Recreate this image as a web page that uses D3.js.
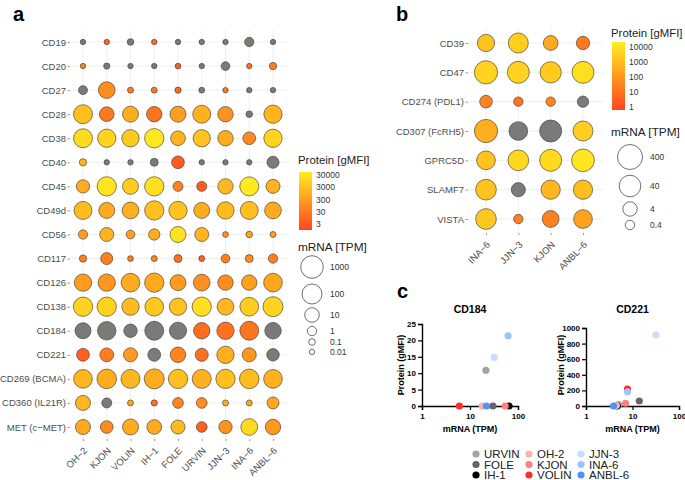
<!DOCTYPE html>
<html><head><meta charset="utf-8">
<script src="https://cdn.jsdelivr.net/npm/d3@7"></script>
<style>body{margin:0;background:#fff} svg{display:block} text{font-family:"Liberation Sans",Arial,sans-serif}</style>
</head><body><svg id="c" width="685" height="480"></svg>
<script>
// ---------- Panel a data ----------
const cellsA = ["OH−2","KJON","VOLIN","IH−1","FOLE","URVIN","JJN−3","INA−6","ANBL−6"];
const markersA = ["CD19","CD20","CD27","CD28","CD38","CD40","CD45","CD49d","CD56","CD117","CD126","CD138","CD184","CD221","CD269 (BCMA)","CD360 (IL21R)","MET (c−MET)"];
const mrnaA = [
 [0.01,0.01,0.1,0.01,0.01,0.01,0.01,0.9,0.01],
 [0.01,0.05,0.01,0.01,0.02,0.01,0.55,0.01,0.18],
 [0.7,25,0.03,0.03,0.05,0.02,0.01,0.01,0.01],
 [65,10.5,18,14,18,42,14,0.1,48],
 [65,48,32,74,10.5,32,14,4.3,48],
 [0.18,0.01,0.01,0.3,4.3,0.01,0.01,0.01,3.2],
 [5.6,74,18,74,1.3,1.3,14,65,7.7],
 [42,18,25,74,48,18,32,42,25],
 [0.9,7.7,0.55,2.3,18,7.7,0.02,0.1,0.03],
 [0.18,3.2,0.02,0.03,0.3,0.03,0.55,0.3,0.9],
 [32,32,57,74,18,25,14,14,57],
 [74,74,32,57,32,74,25,57,100],
 [18,54,6,65,30,21.5,32,62,22],
 [4.5,7.1,7.8,4.7,14,5,32,7.8,3.9],
 [57,85,65,100,74,65,74,85,57],
 [12,1.3,0.03,0.05,1.8,1.8,0.03,0.03,3.2],
 [12,4.3,18,10.5,7.7,1.8,5.6,25,14]
];
const proteinA = [
 [null,5,null,8,null,null,null,null,null],
 [40,null,null,null,5,null,null,15,40],
 [null,100,30,25,10,null,20,null,null],
 [2500,25,800,20,300,1000,150,null,1200],
 [15000,10000,5000,35000,1200,3000,800,80,10000],
 [1500,null,null,null,4,null,null,null,null],
 [700,30000,6000,20000,50,4,1500,40000,1000],
 [2000,700,900,2500,3000,800,1800,2500,700],
 [300,1200,300,800,25000,1200,150,500,250],
 [40,40,30,60,15,6,50,90,40],
 [250,180,700,600,250,120,100,350,500],
 [9000,10000,2000,4500,3000,20000,1500,6000,9000],
 [null,null,null,null,null,11,15,21,null],
 [5,35,218,null,64,17,910,183,null],
 [1500,800,1500,800,2500,1000,2500,2000,1000],
 [1500,null,400,15,60,100,800,600,500],
 [600,80,800,700,2000,5,150,15000,200]
];
const protTicksA = [30000,3000,300,30,3];
const sizeTicksA = [1000,100,10,1,0.1,0.01];

// ---------- Panel b data ----------
const cellsB = ["INA−6","JJN−3","KJON","ANBL−6"];
const markersB = ["CD39","CD47","CD274 (PDL1)","CD307 (FcRH5)","GPRC5D","SLAMF7","VISTA"];
const mrnaB = [
 [10,24,4.5,2.4],
 [120,52,36,52],
 [1.8,0.4,0.4,0.95],
 [120,16,52,24],
 [16,30,52,84],
 [30,3.6,19,19],
 [30,0.4,8.5,16]
];
const proteinB = [
 [1500,3000,300,15],
 [4000,4000,2500,8000],
 [30,10,30,null],
 [400,null,null,3000],
 [1500,5000,6000,12000],
 [1500,null,700,1000],
 [2000,20,25,200]
];
const protTicksB = [10000,1000,100,10,1];
const sizeTicksB = [400,40,4,0.4];

// ---------- Panel c data ----------
const cellsC = ["URVIN","FOLE","IH-1","OH-2","KJON","VOLIN","JJN-3","INA-6","ANBL-6"];
const cd184Mrna = [21.5,30,65,18,54,6,32,62,22];
const cd184Prot = [10.9,0,0,0,0,0,14.8,21.4,0];
const cd221Mrna = [5,14,4.7,4.5,7.1,7.8,32,7.8,3.9];
const cd221Prot = [17,64,0,5,35,218,910,183,0];
const cd184Ticks = [0,5,10,15,20,25];
const cd221Ticks = [0,200,400,600,800,1000];
const xTicksC = [1,10,100];
const paletteC = ["#a3a3a3","#666666","#000000","#ffb0b0","#ff8080","#ff2e2e","#c9ddff","#9cc3ff","#4f93ff"];

// ---------- drawing ----------
const svg = d3.select("#c");
svg.append("rect").attr("width",685).attr("height",480).attr("fill","#fff");
const lab = (x,y,t)=>svg.append("text").attr("x",x).attr("y",y).text(t).attr("font-size",20).attr("font-weight","bold").attr("fill","#000");
lab(13,21,"a"); lab(396,21,"b"); lab(397,298,"c");

const GRAY = "#7a7a7a";

function dotPlot(o){
  const x = d3.scalePoint().domain(o.cells).range(o.xr);
  const y = d3.scalePoint().domain(o.markers).range(o.yr);
  const r = d3.scaleLinear().domain(o.sDom).range(o.sRange).clamp(true);
  const col = d3.scaleLinear().domain(o.cDom).range(["#FF461F","#FFEE1F"]).clamp(true);
  const g = svg.append("g");
  g.append("g").selectAll("line").data(o.markers).join("line")
    .attr("x1",o.gx[0]).attr("x2",o.gx[1]).attr("y1",d=>y(d)).attr("y2",d=>y(d))
    .attr("stroke","#ebebeb").attr("stroke-width",0.8);
  g.append("g").selectAll("line").data(o.cells).join("line")
    .attr("y1",o.gy[0]).attr("y2",o.gy[1]).attr("x1",d=>x(d)).attr("x2",d=>x(d))
    .attr("stroke","#ebebeb").attr("stroke-width",0.8);
  const pts = o.markers.flatMap((m,i)=>o.cells.map((c,j)=>({m,c,t:o.mrna[i][j],p:o.prot[i][j]})));
  g.append("g").selectAll("circle").data(pts).join("circle")
    .attr("cx",d=>x(d.c)).attr("cy",d=>y(d.m)).attr("r",d=>r(Math.log10(d.t)))
    .attr("fill",d=>d.p==null?GRAY:col(Math.log10(d.p)))
    .attr("stroke","#463e33").attr("stroke-width",0.65);
  // axes
  const ay = g.append("g").attr("transform",`translate(${o.ax},0)`).call(d3.axisLeft(y).tickSize(2.5).tickPadding(1.5));
  ay.select(".domain").remove();
  ay.selectAll("line").attr("stroke","#555").attr("stroke-width",0.6);
  ay.selectAll("text").attr("font-size",9.5).attr("fill","#4d4d4d").attr("font-family",'"Liberation Sans",Arial,sans-serif');
  const ax = g.append("g").attr("transform",`translate(0,${o.ay})`).call(d3.axisBottom(x).tickSize(2).tickPadding(2));
  ax.select(".domain").remove();
  ax.selectAll("line").attr("stroke","#555").attr("stroke-width",0.6);
  ax.selectAll("text").attr("font-size",9.5).attr("fill","#4d4d4d").attr("font-family",'"Liberation Sans",Arial,sans-serif')
    .attr("y",0).attr("dy","0.35em").attr("text-anchor","end")
    .attr("transform","translate(2,10) rotate(-45)");
  // colour legend
  const L = o.leg;
  svg.append("text").attr("x",L.x).attr("y",L.titleY).text("Protein [gMFI]").attr("font-size",11.4).attr("fill","#222");
  const gid = "grad"+o.id;
  const grad = svg.append("defs").append("linearGradient").attr("id",gid).attr("x1",0).attr("x2",0).attr("y1",1).attr("y2",0);
  d3.range(0,1.0001,0.1).forEach(t=>grad.append("stop").attr("offset",t).attr("stop-color",col(o.cDom[0]+t*(o.cDom[1]-o.cDom[0]))));
  svg.append("rect").attr("x",L.x+1).attr("y",L.barY[0]).attr("width",13).attr("height",L.barY[1]-L.barY[0]).attr("fill",`url(#${gid})`);
  const ly = d3.scaleLinear().domain(o.cDom).range([L.barY[1],L.barY[0]]);
  svg.append("g").selectAll("text").data(o.protTicks).join("text")
    .attr("x",L.x+18).attr("y",d=>ly(Math.log10(d))).attr("dy","0.35em").text(d=>d)
    .attr("font-size",8.5).attr("fill","#333");
  // size legend
  svg.append("text").attr("x",L.x).attr("y",L.sizeTitleY).text("mRNA [TPM]").attr("font-size",11.8).attr("fill","#222");
  const sg = svg.append("g");
  sg.selectAll("circle").data(o.sizeTicks).join("circle")
    .attr("cx",L.sx).attr("cy",(d,i)=>L.sy[i]).attr("r",d=>r(Math.log10(d)))
    .attr("fill","#fff").attr("stroke","#333").attr("stroke-width",0.7);
  sg.selectAll("text").data(o.sizeTicks).join("text")
    .attr("x",L.slx).attr("y",(d,i)=>L.sy[i]).attr("dy","0.35em").text(d=>d)
    .attr("font-size",8.5).attr("fill","#333");
}

dotPlot({id:"A",cells:cellsA,markers:markersA,mrna:mrnaA,prot:proteinA,
  xr:[83,273],yr:[42,427],gx:[71,288],gy:[30,439],ax:70,ay:439,
  sDom:[-2,-1,0,1,2,3],sRange:[2.7,3.3,4.7,7.3,10,11.3],cDom:[0,4.72],
  protTicks:protTicksA,sizeTicks:sizeTicksA,
  leg:{x:298,titleY:164,barY:[172,230],sizeTitleY:251,sx:312,sy:[267,294,315,331,342,352],slx:330}});

dotPlot({id:"B",cells:cellsB,markers:markersB,mrna:mrnaB,prot:proteinB,
  xr:[486,583],yr:[43,219],gx:[469,603],gy:[27,233],ax:468,ay:233,
  sDom:[-0.4,0.6,1.6,2.6],sRange:[4.7,7.2,10.8,12.5],cDom:[-0.2,4.33],
  protTicks:protTicksB,sizeTicks:sizeTicksB,
  leg:{x:611,titleY:37,barY:[42,110],sizeTitleY:136,sx:630,sy:[157,186,209,225],slx:650}});

// ---------- Panel c ----------
function scatter(o){
  const x = d3.scaleLog().domain([1,100]).range(o.xr);
  const y = d3.scaleLinear().domain(o.yDom).range([406,o.yTop]);
  const g = svg.append("g");
  const ay = g.append("g").attr("transform",`translate(${o.xr[0]},0)`)
    .call(d3.axisLeft(y).tickValues(o.yTicks).tickSize(4).tickPadding(2).tickFormat(d3.format("d")));
  const ax = g.append("g").attr("transform",`translate(0,406)`)
    .call(d3.axisBottom(x).tickValues(xTicksC).tickSize(4).tickPadding(3).tickFormat(d3.format("d")));
  [ay,ax].forEach(a=>{
    a.select(".domain").attr("stroke","#000").attr("stroke-width",1.4);
    a.selectAll("line").attr("stroke","#000").attr("stroke-width",1.2);
    a.selectAll("text").attr("font-size",8).attr("font-weight","bold").attr("fill","#000").attr("font-family",'"Liberation Sans",Arial,sans-serif');
  });
  const pts = cellsC.map((c,i)=>({c,i,m:o.mrna[i],p:o.prot[i]}));
  g.append("g").selectAll("circle").data(pts).join("circle")
    .attr("cx",d=>x(d.m)).attr("cy",d=>y(d.p)).attr("r",3.6)
    .attr("fill",d=>paletteC[d.i]);
  const cx = (o.xr[0]+o.xr[1])/2;
  g.append("text").attr("x",cx).attr("y",313).attr("text-anchor","middle").text(o.title)
    .attr("font-size",10.5).attr("font-weight","bold");
  g.append("text").attr("x",cx).attr("y",432).attr("text-anchor","middle").text("mRNA (TPM)")
    .attr("font-size",9).attr("font-weight","bold");
  g.append("text").attr("transform",`translate(${o.ytx},365) rotate(-90)`).attr("text-anchor","middle")
    .attr("dy","0.35em").text("Protein (gMFI)").attr("font-size",9).attr("font-weight","bold");
}
scatter({title:"CD184",xr:[422,518],yDom:[0,25],yTop:324,yTicks:cd184Ticks,mrna:cd184Mrna,prot:cd184Prot,ytx:401});
scatter({title:"CD221",xr:[586,679],yDom:[0,1000],yTop:328,yTicks:cd221Ticks,mrna:cd221Mrna,prot:cd221Prot,ytx:561});

// legend c
const lgx = [476,529,581], lgy = [454,464.5,475];
const lg = svg.append("g");
cellsC.forEach((c,i)=>{
  const col = Math.floor(i/3), row = i%3;
  lg.append("circle").attr("cx",lgx[col]).attr("cy",lgy[row]).attr("r",3.6).attr("fill",paletteC[i]);
  lg.append("text").attr("x",lgx[col]+8).attr("y",lgy[row]).attr("dy","0.36em").text(c)
    .attr("font-size",11.5).attr("fill","#222");
});
</script></body></html>
